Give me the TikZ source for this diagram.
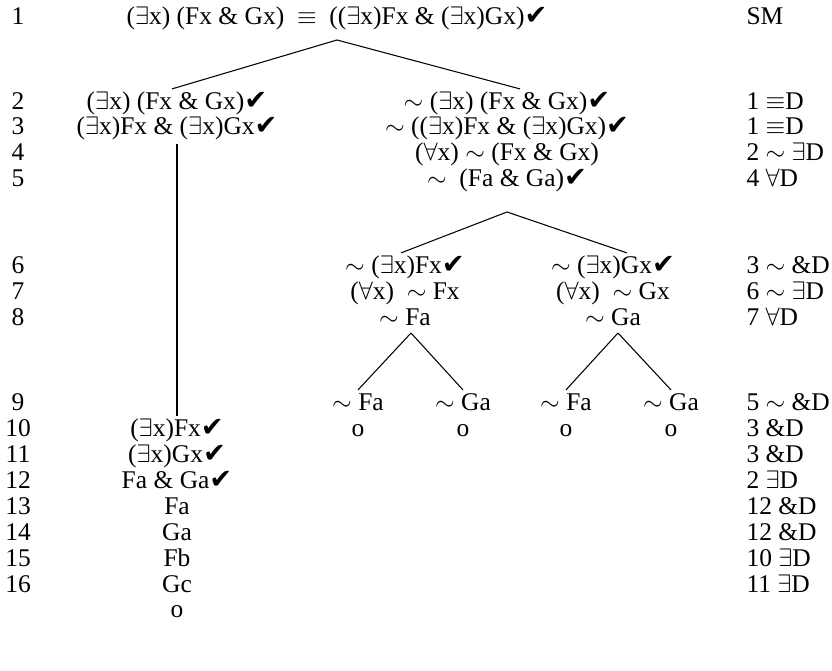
\documentclass[tikz,border=0pt]{standalone}
\usepackage{fontspec}
\setmainfont{Liberation Serif}
\newfontfamily\dejavu{DejaVu Sans}
\newcommand\exq{(\ensuremath{\exists}x)}
\newcommand\allq{(\ensuremath{\forall}x)}
\newcommand\negq{\ensuremath{\sim}}
\newcommand\chk{{\dejavu\fontsize{15.5}{15.5}\selectfont ✔}}
\begin{document}
\begin{tikzpicture}[x=0.02cm,y=-0.02cm,
  every node/.style={font=\fontsize{14.5}{17}\selectfont,inner sep=0pt,outer sep=2pt,
    text height=10pt,text depth=3pt,anchor=base},
  branch/.style={line width=0.6pt}]
  \useasboundingbox (0,0) rectangle (832,671);
  % line numbers
  \foreach \n/\y in {1/25,2/110,3/135,4/161,5/187,6/274,7/300,8/326,9/411,
    10/437,11/463,12/489,13/515,14/541,15/567,16/593}
    \node (n\n) at (18,\y) {\n};
  % justifications
  \foreach \n/\y/\t in {1/25/SM,2/110/1 \ensuremath{\equiv}D,3/135/1 \ensuremath{\equiv}D,
    4/161/2 \negq\ \ensuremath{\exists}D,5/187/4 \ensuremath{\forall}D,
    6/274/3 \negq\ \&D,7/300/6 \negq\ \ensuremath{\exists}D,8/326/7 \ensuremath{\forall}D,
    9/411/5 \negq\ \&D,10/437/3 \&D,11/463/3 \&D,12/489/2 \ensuremath{\exists}D,
    13/515/12 \&D,14/541/12 \&D,15/567/10 \ensuremath{\exists}D,16/593/11 \ensuremath{\exists}D}
    \node[anchor=base west] (j\n) at (743,\y) {\t};
  % trunk
  \node (t1) at (337,25) {\exq\ (Fx \& Gx)\ \ \ensuremath{\equiv}\ \ (\exq Fx \& \exq Gx)\chk};
  % left branch
  \node (l2) at (177,110) {\exq\ (Fx \& Gx)\chk};
  \node (l3) at (177,135) {\exq Fx \& \exq Gx\chk};
  \node (l10) at (177,437) {\exq Fx\chk};
  \node (l11) at (177,463) {\exq Gx\chk};
  \node (l12) at (177,489) {Fa \& Ga\chk};
  \node (l13) at (177,515) {Fa};
  \node (l14) at (177,541) {Ga};
  \node (l15) at (177,567) {Fb};
  \node (l16) at (177,593) {Gc};
  \node (lo) at (177,618) {o};
  % right branch
  \node (r2) at (507,110) {\negq\ \exq\ (Fx \& Gx)\chk};
  \node (r3) at (507,135) {\negq\ (\exq Fx \& \exq Gx)\chk};
  \node (r4) at (507,161) {\allq\ \negq\ (Fx \& Gx)};
  \node (r5) at (507,187) {\negq\ \ (Fa \& Ga)\chk};
  \node (a6) at (405,274) {\negq\ \exq Fx\chk};
  \node (a7) at (405,300) {\allq\ \ \negq\ Fx};
  \node (a8) at (405,326) {\negq\ Fa};
  \node (b6) at (613,274) {\negq\ \exq Gx\chk};
  \node (b7) at (613,300) {\allq\ \ \negq\ Gx};
  \node (b8) at (613,326) {\negq\ Ga};
  \node (c9) at (358,411) {\negq\ Fa};
  \node (d9) at (463,411) {\negq\ Ga};
  \node (e9) at (566,411) {\negq\ Fa};
  \node (f9) at (671,411) {\negq\ Ga};
  \foreach \m in {c,d,e,f}
    \node (\m o) at (\m9 |- 0,437) {o};
  % splits
  \coordinate (s1) at (337,40);
  \coordinate (s2) at (507,212);
  \coordinate (s3) at (411,333);
  \coordinate (s4) at (618,333);
  \draw[branch] (s1) -- ([xshift=-0.1cm]l2.north);
  \draw[branch] (s1) -- ([xshift=0.26cm]r2.north);
  \draw[branch] (l3.south) -- (l10.north);
  \draw[branch] (s2) -- ([xshift=-0.08cm]a6.north);
  \draw[branch] (s2) -- ([xshift=0.28cm]b6.north);
  \draw[branch] (s3) -- (c9.north);
  \draw[branch] (s3) -- (d9.north);
  \draw[branch] (s4) -- (e9.north);
  \draw[branch] (s4) -- (f9.north);
\end{tikzpicture}
\end{document}
